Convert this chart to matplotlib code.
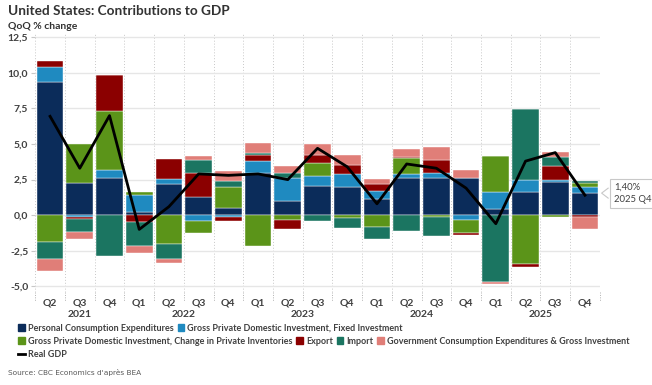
import numpy as np
import matplotlib.pyplot as plt
from matplotlib.patches import Patch
from matplotlib.lines import Line2D
from matplotlib.transforms import blended_transform_factory

plt.rcParams['font.family'] = ['Lato', 'DejaVu Sans']

# data: contributions to real GDP growth (pp), 2021 Q2 -> 2025 Q4
quarters = ["Q2", "Q3", "Q4"] + ["Q1", "Q2", "Q3", "Q4"] * 4
years = ["2021", "2022", "2023", "2024", "2025"]
year_start = [0, 3, 7, 11, 15]
year_end = [2, 6, 10, 14, 18]

pce = [9.35, 2.23, 2.61, 0.19, 2.18, 1.25, 0.51, 2.98, 0.99, 2.04, 1.99, 1.13, 2.58, 2.63, 2.58, 0.42, 1.64, 2.30, 1.53]
fixed_inv = [1.10, -0.15, 0.56, 1.20, 0.33, -0.42, -0.10, 0.82, 1.64, 0.70, 0.89, 0.58, 0.30, 0.31, -0.35, 1.22, 0.82, 0.16, 0.47]
inventories = [-1.88, 2.79, 4.13, 0.25, -2.04, -0.82, 1.45, -2.16, -0.35, 0.96, -0.19, -0.82, 1.15, -0.12, -0.89, 2.54, -3.40, -0.12, 0.28]
export = [0.42, -0.10, 2.56, -0.45, 1.45, 1.69, -0.30, 0.42, -0.59, 0.51, 0.63, 0.47, 0.07, 0.94, -0.12, 0.00, -0.23, 0.99, -0.12]
imports = [-1.22, -0.90, -2.86, -1.69, -1.06, 0.94, 0.47, 0.16, 0.31, -0.40, -0.70, -0.89, -1.10, -1.34, 0.00, -4.70, 5.00, 0.61, 0.14]
gov = [-0.82, -0.55, 0.00, -0.52, -0.23, 0.30, 0.65, 0.66, 0.54, 0.82, 0.75, 0.35, 0.54, 0.89, 0.59, -0.16, 0.00, 0.39, -0.87]
real_gdp = [6.95, 3.30, 7.00, -1.00, 0.60, 2.90, 2.80, 2.90, 2.50, 4.70, 3.40, 0.80, 3.60, 3.30, 1.90, -0.60, 3.80, 4.40, 1.40]

series = [
    ("Personal Consumption Expenditures", pce, "#0B2C5A"),
    ("Gross Private Domestic Investment, Fixed Investment", fixed_inv, "#1F8AC0"),
    ("Gross Private Domestic Investment, Change in Private Inventories", inventories, "#5B9419"),
    ("Export", export, "#8B0000"),
    ("Import", imports, "#1B7561"),
    ("Government Consumption Expenditures & Gross Investment", gov, "#E07E78"),
]

TXT = "#404040"
fig = plt.figure(figsize=(6.52, 3.85), dpi=100)
ax = fig.add_axes([0.054, 0.2416, 0.866, 0.6724])

x = np.arange(len(quarters))
pos_bottom = np.zeros(len(x))
neg_bottom = np.zeros(len(x))
for name, vals, col in series:
    v = np.array(vals)
    bottom = np.where(v >= 0, pos_bottom, neg_bottom)
    ax.bar(x, v, 0.9, bottom=bottom, color=col, edgecolor="white", linewidth=0.3, zorder=3)
    pos_bottom += np.where(v >= 0, v, 0)
    neg_bottom += np.where(v < 0, v, 0)

ax.plot(x, real_gdp, color="black", lw=2, zorder=4)

ax.set_xlim(-0.5, 18.5)
ax.set_ylim(-5.4, 12.8)
yt = np.arange(-5, 12.6, 2.5)
ax.set_yticks(yt)
ax.set_yticklabels([f"{t:.1f}".replace(".", ",") for t in yt])
ax.yaxis.grid(True, color="#E6E6E6", lw=1, zorder=0)
for b in np.arange(-0.5, 19, 1):
    ax.axvline(b, color="#C8C8C8", lw=0.7, ls=(0, (1, 2)), zorder=1)
for s in ax.spines.values():
    s.set_visible(False)
ax.tick_params(axis="y", length=3, color="#C8C8C8", labelsize=7.5, labelcolor=TXT, pad=2)
for lab in ax.get_yticklabels():
    lab.set_fontweight("bold")

ax.set_xticks(x)
ax.set_xticklabels(quarters, fontsize=7.5, color=TXT, fontweight="bold")
ax.tick_params(axis="x", length=0, pad=5)

tr = blended_transform_factory(ax.transData, ax.transAxes)
for y, s, e in zip(years, year_start, year_end):
    ax.text((s + e) / 2, -0.088, y, transform=tr, ha="center", va="center",
            fontsize=7.5, color=TXT, fontweight="bold")
for b in np.arange(-0.5, 19, 1):
    ax.plot([b, b], [0, -0.035], transform=tr, color="#B0B0B0", lw=0.7,
            ls=(0, (1, 1.5)), clip_on=False)

# end label
bx, by = 18.98, 1.55
ax.text(bx, by, "1,40%\n2025 Q4", fontsize=6.8, color=TXT, ha="left", va="center",
        linespacing=1.5, clip_on=False,
        bbox=dict(boxstyle="square,pad=0.4", fc="white", ec="#C8C8C8", lw=0.8))
ax.plot([bx - 0.2, bx - 0.42, bx - 0.2], [by + 0.35, by, by - 0.35], color="#C8C8C8",
        lw=0.8, clip_on=False)

fig.text(0.012, 0.972, "United States: Contributions to GDP", fontsize=9.8,
         fontweight="bold", color="#333333", va="center")
fig.text(0.012, 0.932, "QoQ % change", fontsize=7.5, fontweight="bold",
         color="#333333", va="center")

def make_legend(items, yfrac):
    handles = []
    for name, col in items:
        if col == "line":
            handles.append(Line2D([0], [0], color="black", lw=2, label=name))
        else:
            handles.append(Patch(color=col, label=name))
    leg = fig.legend(handles=handles, loc="center left", bbox_to_anchor=(0.028, yfrac),
                     ncol=len(handles), frameon=False, fontsize=6.5, handlelength=0.75,
                     handleheight=0.75, handletextpad=0.3, columnspacing=0.45,
                     borderpad=0, borderaxespad=0)
    for t in leg.get_texts():
        t.set_color(TXT)
        t.set_fontweight("bold")

make_legend([(s[0], s[2]) for s in series[:2]], 0.148)
make_legend([(s[0], s[2]) for s in series[2:]], 0.114)
make_legend([("Real GDP", "line")], 0.078)

fig.text(0.012, 0.033, "Source: CBC Economics d'après BEA", fontsize=5.3, color="#595959",
         family=["Liberation Sans Narrow", "DejaVu Sans"], va="center")

fig.savefig("out.png", dpi=100)
